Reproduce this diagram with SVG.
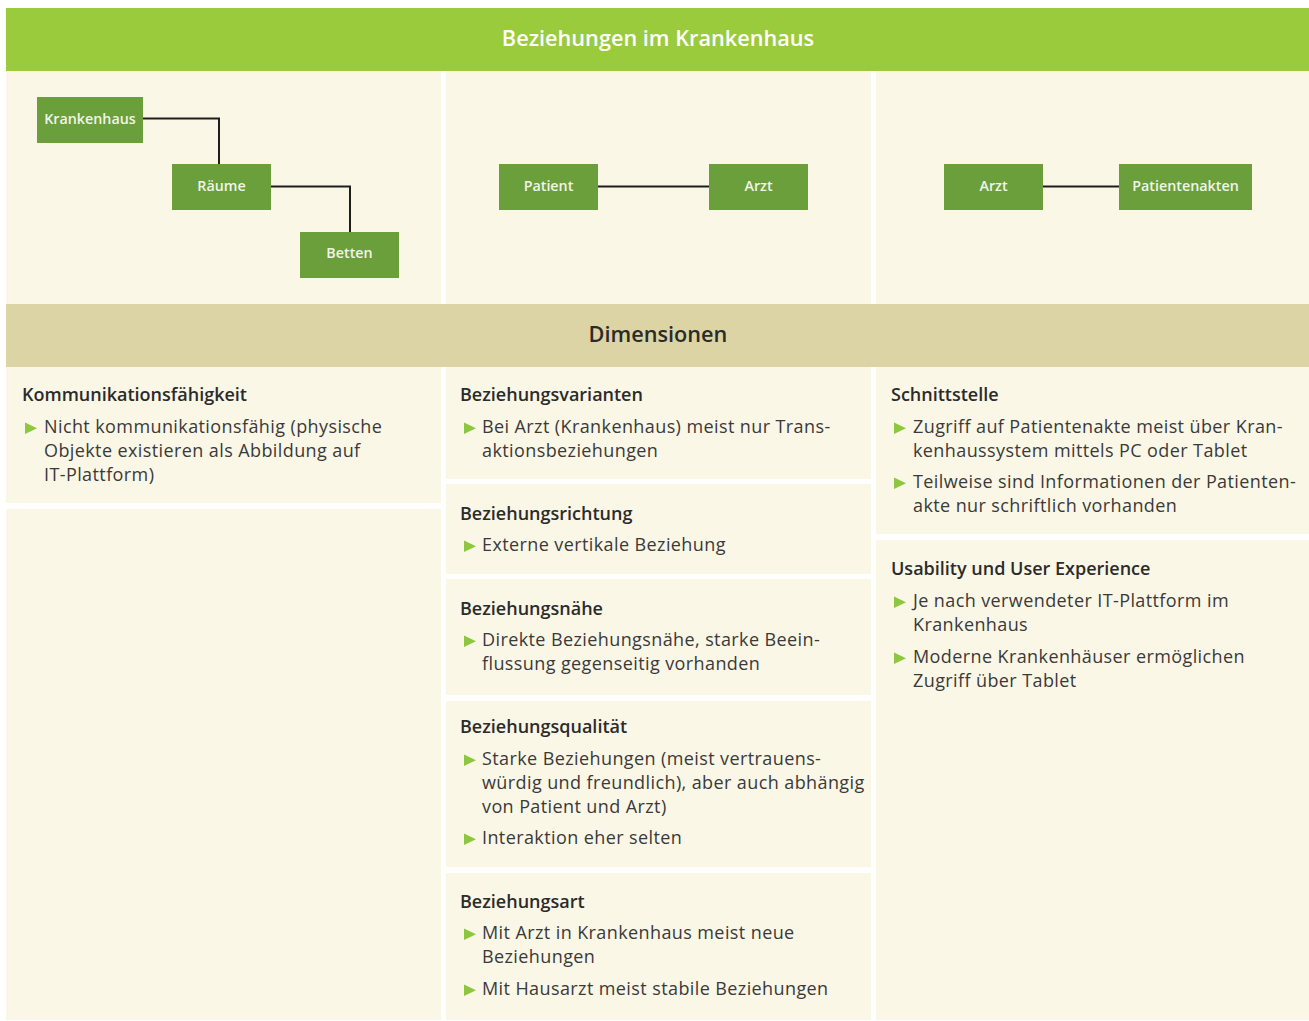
<svg xmlns="http://www.w3.org/2000/svg" xmlns:xlink="http://www.w3.org/1999/xlink" width="1309" height="1021" viewBox="0 0 1309 1021">
  <defs>
    <style>
      .panel { fill: #faf7e6; }
      .head { fill: #9acb3c; }
      .band { fill: #dcd4a4; }
      .node rect { fill: #6a9f3c; }
      .node text { fill: #f1f5e6; font-family: "Open Sans", "Noto Sans", sans-serif; font-size: 14.3px; font-weight: 600; text-anchor: middle; }
      .title { fill: #ffffff; font-family: "Open Sans", "Noto Sans", sans-serif; font-size: 21.7px; font-weight: 600; text-anchor: middle; }
      .band-title { fill: #2b2b2b; font-family: "Open Sans", "Noto Sans", sans-serif; font-size: 21.7px; font-weight: 600; text-anchor: middle; }
      .h { fill: #2b2b2b; font-family: "Open Sans", "Noto Sans", sans-serif; font-size: 18px; font-weight: 600; }
      .t { fill: #3a3a3a; font-family: "Open Sans", "Noto Sans", sans-serif; font-size: 18px; letter-spacing: 0.4px; }
      .conn { fill: none; stroke: #1e1e1e; stroke-width: 2; }
      .bullet { fill: #8dc63f; }
    </style>
    <!-- bullet triangle, placed relative to the text baseline -->
    <path id="tri" class="bullet" d="M0,-10.5 L12,-4.8 L0,1 Z"/>
  </defs>

  <rect width="1309" height="1021" fill="#ffffff"/>

  <!-- title bar -->
  <rect class="head" x="6" y="8" width="1303" height="63"/>
  <text class="title" x="658" y="45.5">Beziehungen im Krankenhaus</text>

  <!-- upper diagram panels -->
  <rect class="panel" x="6" y="71" width="435" height="233"/>
  <rect class="panel" x="446" y="71" width="425" height="233"/>
  <rect class="panel" x="876" y="71" width="433" height="233"/>

  <!-- dimensions band -->
  <rect class="band" x="6" y="304" width="1303" height="63"/>
  <text class="band-title" x="658" y="341.5">Dimensionen</text>

  <!-- dimension panels -->
  <rect class="panel" x="6" y="367" width="435" height="136"/>
  <rect class="panel" x="6" y="509" width="435" height="511"/>
  <rect class="panel" x="446" y="367" width="425" height="112"/>
  <rect class="panel" x="446" y="484" width="425" height="90"/>
  <rect class="panel" x="446" y="579" width="425" height="116"/>
  <rect class="panel" x="446" y="701" width="425" height="166"/>
  <rect class="panel" x="446" y="873" width="425" height="147"/>
  <rect class="panel" x="876" y="367" width="433" height="167"/>
  <rect class="panel" x="876" y="540" width="433" height="480"/>

  <!-- connectors -->
  <g id="connectors">
    <path class="conn" d="M143,118.5 H219 V164"/>
    <path class="conn" d="M271,186.5 H350 V232"/>
    <path class="conn" d="M598,186.5 H709"/>
    <path class="conn" d="M1043,186.5 H1119"/>
  </g>

  <!-- nodes -->
  <g id="node-krankenhaus" class="node">
    <rect x="37" y="97" width="106" height="46"/>
    <text x="90" y="123.5">Krankenhaus</text>
  </g>
  <g id="node-raeume" class="node">
    <rect x="172" y="164" width="99" height="46"/>
    <text x="221.5" y="190.5">Räume</text>
  </g>
  <g id="node-betten" class="node">
    <rect x="300" y="232" width="99" height="46"/>
    <text x="349.5" y="258">Betten</text>
  </g>
  <g id="node-patient" class="node">
    <rect x="499" y="164" width="99" height="46"/>
    <text x="548.5" y="190.5">Patient</text>
  </g>
  <g id="node-arzt-1" class="node">
    <rect x="709" y="164" width="99" height="46"/>
    <text x="758.5" y="190.5">Arzt</text>
  </g>
  <g id="node-arzt-2" class="node">
    <rect x="944" y="164" width="99" height="46"/>
    <text x="993.5" y="190.5">Arzt</text>
  </g>
  <g id="node-patientenakten" class="node">
    <rect x="1119" y="164" width="133" height="46"/>
    <text x="1185.5" y="190.5">Patientenakten</text>
  </g>

  <!-- left column -->
  <g id="kommunikation">
    <text class="h" x="22" y="401">Kommunikationsfähigkeit</text>
    <use xlink:href="#tri" x="25" y="433"/>
    <text class="t" x="44" y="433">Nicht kommunikationsfähig (physische</text>
    <text class="t" x="44" y="457">Objekte existieren als Abbildung auf</text>
    <text class="t" x="44" y="481">IT-Plattform)</text>
  </g>

  <!-- middle column -->
  <g id="varianten">
    <text class="h" x="460" y="401">Beziehungsvarianten</text>
    <use xlink:href="#tri" x="464" y="433"/>
    <text class="t" x="482" y="433">Bei Arzt (Krankenhaus) meist nur Trans-</text>
    <text class="t" x="482" y="457">aktionsbeziehungen</text>
  </g>
  <g id="richtung">
    <text class="h" x="460" y="520">Beziehungsrichtung</text>
    <use xlink:href="#tri" x="464" y="551"/>
    <text class="t" x="482" y="551">Externe vertikale Beziehung</text>
  </g>
  <g id="naehe">
    <text class="h" x="460" y="615">Beziehungsnähe</text>
    <use xlink:href="#tri" x="464" y="646"/>
    <text class="t" x="482" y="646">Direkte Beziehungsnähe, starke Beein-</text>
    <text class="t" x="482" y="670">flussung gegenseitig vorhanden</text>
  </g>
  <g id="qualitaet">
    <text class="h" x="460" y="733">Beziehungsqualität</text>
    <use xlink:href="#tri" x="464" y="765"/>
    <text class="t" x="482" y="765">Starke Beziehungen (meist vertrauens-</text>
    <text class="t" x="482" y="789">würdig und freundlich), aber auch abhängig</text>
    <text class="t" x="482" y="813">von Patient und Arzt)</text>
    <use xlink:href="#tri" x="464" y="844"/>
    <text class="t" x="482" y="844">Interaktion eher selten</text>
  </g>
  <g id="art">
    <text class="h" x="460" y="908">Beziehungsart</text>
    <use xlink:href="#tri" x="464" y="939"/>
    <text class="t" x="482" y="939">Mit Arzt in Krankenhaus meist neue</text>
    <text class="t" x="482" y="963">Beziehungen</text>
    <use xlink:href="#tri" x="464" y="995"/>
    <text class="t" x="482" y="995">Mit Hausarzt meist stabile Beziehungen</text>
  </g>

  <!-- right column -->
  <g id="schnittstelle">
    <text class="h" x="891" y="401">Schnittstelle</text>
    <use xlink:href="#tri" x="894" y="433"/>
    <text class="t" x="913" y="433">Zugriff auf Patientenakte meist über Kran-</text>
    <text class="t" x="913" y="457">kenhaussystem mittels PC oder Tablet</text>
    <use xlink:href="#tri" x="894" y="488"/>
    <text class="t" x="913" y="488">Teilweise sind Informationen der Patienten-</text>
    <text class="t" x="913" y="512">akte nur schriftlich vorhanden</text>
  </g>
  <g id="usability">
    <text class="h" x="891" y="575">Usability und User Experience</text>
    <use xlink:href="#tri" x="894" y="607"/>
    <text class="t" x="913" y="607">Je nach verwendeter IT-Plattform im</text>
    <text class="t" x="913" y="631">Krankenhaus</text>
    <use xlink:href="#tri" x="894" y="663"/>
    <text class="t" x="913" y="663">Moderne Krankenhäuser ermöglichen</text>
    <text class="t" x="913" y="687">Zugriff über Tablet</text>
  </g>
</svg>
